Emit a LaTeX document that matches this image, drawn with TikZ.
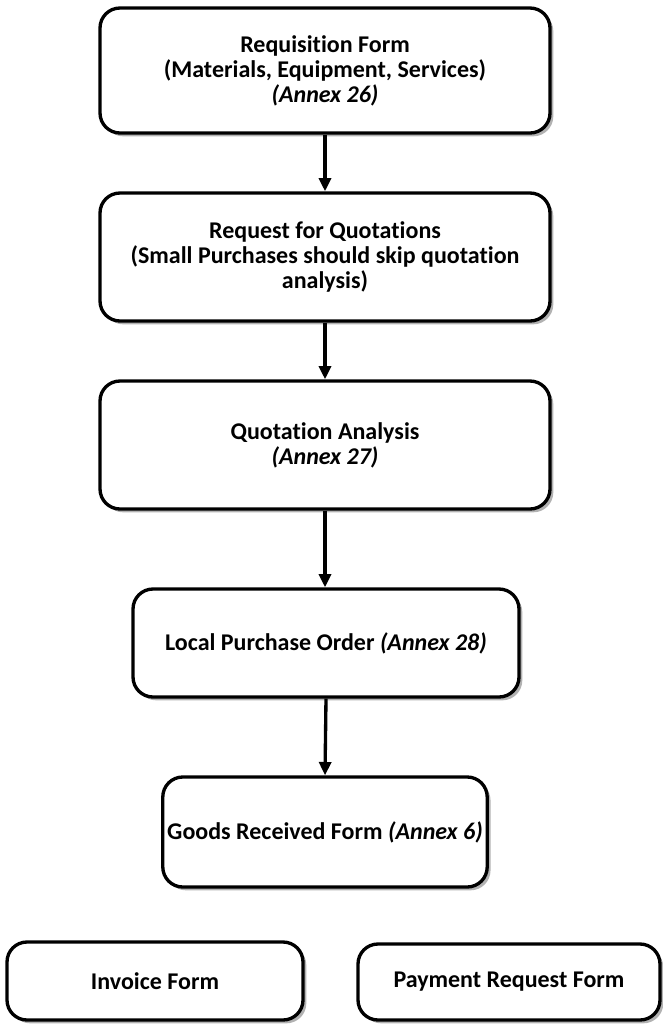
\documentclass[tikz,border=0pt]{standalone}
\usepackage{fontspec}
\setmainfont{Carlito}[Ligatures=NoCommon]
\usetikzlibrary{shadows,arrows.meta,positioning}

\begin{document}
\begin{tikzpicture}[
    x=0.75pt, y=-0.75pt,
    box/.style={rectangle, rounded corners=15pt, draw, line width=2.5pt, fill=white, align=center, font=\fontsize{18}{18.75}\selectfont\bfseries,
        drop shadow={shadow xshift=2.5pt, shadow yshift=-2.5pt, fill=gray!60, opacity=1}},
    flow/.style={line width=2.5pt, -{Triangle[width=9pt, length=10pt]}}
]
\useasboundingbox (0,0) rectangle (662,1025);

% Hauptablauf
\node (req) [box, minimum width=337.5pt, minimum height=93.75pt] at (325,70.5) {Requisition Form\\(Materials, Equipment, Services)\\\textit{(Annex 26)}};
\node (rfq) [box, minimum width=337.5pt, minimum height=96pt] at (325,257) {Request for Quotations\\(Small Purchases should skip quotation\\analysis)};
\node (qa) [box, minimum width=337.5pt, minimum height=96pt] at (325,445) {Quotation Analysis\\\textit{(Annex 27)}};
\node (lpo) [box, minimum width=289.5pt, minimum height=81pt] at (326,643) {Local Purchase Order \textit{(Annex 28)}};
\node (grf) [box, minimum width=243pt, minimum height=82.5pt] at (325,832) {Goods Received Form \textit{(Annex 6)}};

% Formulare unten
\node (inv) [box, minimum width=222pt, minimum height=58.5pt] at (155,981) {Invoice Form};
\node (pay) [box, minimum width=226.5pt, minimum height=57pt] at (509,982) {Payment Request Form};

% Pfeile
\draw[flow] (req.south) -- (rfq.north);
\draw[flow] (rfq.south) -- (qa.north);
\draw[flow] (qa.south) -- (lpo.north -| qa.south);
\draw[flow] (lpo.south) -- (grf.north);

\end{tikzpicture}
\end{document}
